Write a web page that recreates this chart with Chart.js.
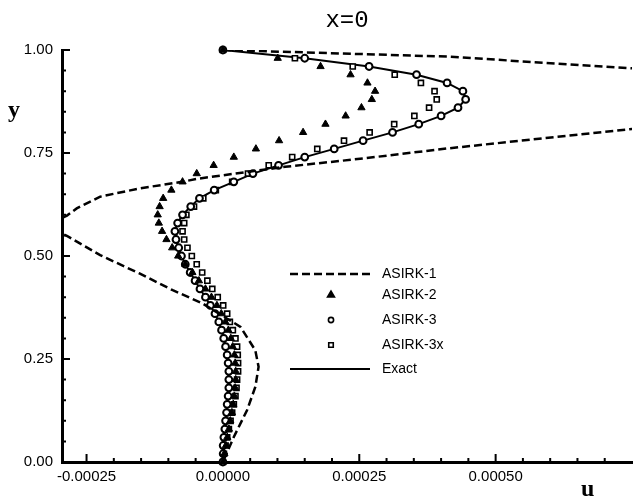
<!DOCTYPE html>
<html>
<head>
<meta charset="utf-8">
<title>x=0</title>
<script src="https://cdn.jsdelivr.net/npm/chart.js@4.4.1/dist/chart.umd.min.js"></script>
<style>
  html, body { margin: 0; padding: 0; background: #fff; }
  #wrap { position: relative; width: 638px; height: 498px; }
</style>
</head>
<body>
<div id="wrap"><canvas id="profile-chart" width="638" height="498"></canvas></div>
<script>
// u-velocity profiles at x=0 (u in units of 1e-5)

const yLevels = [1.00, 0.98, 0.96, 0.94, 0.92, 0.90, 0.88, 0.86, 0.84, 0.82,
                 0.80, 0.78, 0.76, 0.74, 0.72, 0.70, 0.68, 0.66, 0.64, 0.62,
                 0.60, 0.58, 0.56, 0.54, 0.52, 0.50, 0.48, 0.46, 0.44, 0.42,
                 0.40, 0.38, 0.36, 0.34, 0.32, 0.30, 0.28, 0.26, 0.24, 0.22,
                 0.20, 0.18, 0.16, 0.14, 0.12, 0.10, 0.08, 0.06, 0.04, 0.02, 0.00];

const asirk2U = [0, 10.05, 17.9, 23.4, 26.5, 27.9, 27.3, 25.4, 22.5, 18.8,
                 14.7, 10.3, 6.05, 2.0, -1.7, -4.8, -7.4, -9.45, -10.95, -11.6,
                 -11.95, -11.75, -11.15, -10.35, -9.3, -8.2, -6.9, -5.6, -4.4, -3.2,
                 -2.1, -1.1, -0.3, 0.45, 1.0, 1.45, 1.8, 2.1, 2.25, 2.35,
                 2.35, 2.25, 2.1, 1.9, 1.65, 1.35, 1.1, 0.8, 0.55, 0.27, 0];

const asirk3U = [0, 15.0, 26.8, 35.5, 41.1, 44.0, 44.5, 43.1, 40.0, 35.9,
                 31.1, 25.7, 20.4, 15.0, 10.2, 5.5, 2.0, -1.6, -4.3, -5.9,
                 -7.4, -8.3, -8.8, -8.6, -8.1, -7.6, -6.9, -6.0, -5.1, -4.2,
                 -3.2, -2.3, -1.45, -0.75, -0.25, 0.15, 0.49, 0.78, 0.96, 1.09,
                 1.09, 1.09, 0.96, 0.78, 0.67, 0.49, 0.36, 0.18, 0.05, 0.05, 0];

const asirk3xU = [0, 13.2, 23.8, 31.5, 36.3, 38.8, 39.2, 37.8, 35.1, 31.4,
                  26.9, 22.2, 17.3, 12.7, 8.4, 4.6, 1.7, -1.3, -3.6, -5.3,
                  -6.7, -7.1, -7.4, -7.1, -6.5, -5.7, -4.8, -3.8, -2.85, -1.95,
                  -0.95, 0.05, 0.78, 1.27, 1.82, 2.3, 2.6, 2.72, 2.78, 2.78,
                  2.6, 2.49, 2.3, 2.0, 1.69, 1.4, 1.09, 0.78, 0.49, 0.18, 0];

const exactU = [0, 15.0, 26.8, 35.5, 41.1, 44.0, 44.5, 43.1, 40.0, 35.9,
                31.1, 25.7, 20.4, 15.0, 10.2, 5.5, 2.0, -1.6, -4.3, -5.9,
                -7.4, -8.3, -8.8, -8.6, -8.1, -7.6, -6.9, -6.0, -5.1, -4.2,
                -3.2, -2.3, -1.45, -0.75, -0.25, 0.15, 0.49, 0.78, 0.96, 1.09,
                1.09, 1.09, 0.96, 0.78, 0.67, 0.49, 0.36, 0.18, 0.05, 0.05, 0];

// ASIRK-1 overshoots both sides of the frame, the outside points get clipped
const asirk1U = [0, 41.1, 75.0, 92.0, 110.0, 92.0, 74.1, 41.1, 25.9, 11.4,
                 -4.4, -7.5, -15.3, -22.5, -26.8, -28.6, -32.5, -28.6, -22.5, -15.3,
                 -9.2, -3.76, 3.22, 5.94, 6.54, 5.94, 4.42, 2.0, 0];
const asirk1Y = [1.0, 0.984, 0.9555, 0.9415, 0.89, 0.833, 0.807, 0.761, 0.737, 0.7165,
                 0.688, 0.680, 0.664, 0.644, 0.6155, 0.598, 0.573, 0.549, 0.502, 0.4576,
                 0.417, 0.385, 0.328, 0.271, 0.231, 0.182, 0.1256, 0.0607, 0];

const xTickValues = [-0.00025, 0, 0.00025, 0.0005];
const xTickLabels = ['-0.00025', '0.00000', '0.00025', '0.00050'];
const xMinorTicks = [-0.0002, -0.00015, -0.0001, -0.00005, 0.00005, 0.0001, 0.00015, 0.0002,
                     0.0003, 0.00035, 0.0004, 0.00045, 0.00055, 0.0006, 0.00065, 0.0007];
const yTickValues = [0, 0.25, 0.5, 0.75, 1.0];
const yTickLabels = ['0.00', '0.25', '0.50', '0.75', '1.00'];
const yMinorTicks = [0.05, 0.1, 0.15, 0.2, 0.3, 0.35, 0.4, 0.45, 0.55, 0.6, 0.65, 0.7, 0.8, 0.85, 0.9, 0.95];

const seriesNames = ['ASIRK-1', 'ASIRK-2', 'ASIRK-3', 'ASIRK-3x', 'Exact'];

function profilePoints(uList, yList) {
  return uList.map((u, i) => ({ x: u * 1e-5, y: yList[i] }));
}

const SANS = '"Liberation Sans", Arial, Helvetica, sans-serif';

// Inward tick marks, legend and the loose text labels
const decorPlugin = {
  id: 'decor',
  afterDraw(chart) {
    const ctx = chart.ctx;
    const xs = chart.scales.x;
    const ys = chart.scales.y;
    const area = chart.chartArea;
    ctx.save();
    ctx.strokeStyle = '#000';
    ctx.lineWidth = 2;
    ctx.beginPath();
    xTickValues.forEach(v => { const p = xs.getPixelForValue(v); ctx.moveTo(p, area.bottom); ctx.lineTo(p, area.bottom - 8); });
    xMinorTicks.forEach(v => { const p = xs.getPixelForValue(v); ctx.moveTo(p, area.bottom); ctx.lineTo(p, area.bottom - 4); });
    yTickValues.forEach(v => { const p = ys.getPixelForValue(v); ctx.moveTo(area.left, p); ctx.lineTo(area.left + 8, p); });
    yMinorTicks.forEach(v => { const p = ys.getPixelForValue(v); ctx.moveTo(area.left, p); ctx.lineTo(area.left + 4, p); });
    ctx.stroke();

    // legend
    const rowsY = [274, 295, 320, 345, 369];
    ctx.fillStyle = '#000';
    ctx.lineWidth = 2.5;
    ctx.setLineDash([8, 4]);
    ctx.beginPath(); ctx.moveTo(290, rowsY[0]); ctx.lineTo(370, rowsY[0]); ctx.stroke();
    ctx.setLineDash([]);
    ctx.lineWidth = 2;
    ctx.beginPath(); ctx.moveTo(290, rowsY[4]); ctx.lineTo(370, rowsY[4]); ctx.stroke();
    Chart.helpers.drawPoint(ctx, { pointStyle: 'triangle', radius: 3.6, rotation: 0, borderWidth: 1 }, 331, rowsY[1]);
    ctx.fillStyle = '#fff';
    ctx.lineWidth = 1.6;
    Chart.helpers.drawPoint(ctx, { pointStyle: 'circle', radius: 2.6, rotation: 0, borderWidth: 1.6 }, 331, rowsY[2]);
    Chart.helpers.drawPoint(ctx, { pointStyle: 'rect', radius: 3.2, rotation: 0, borderWidth: 1.6 }, 331, rowsY[3]);

    ctx.fillStyle = '#000';
    ctx.font = '14px ' + SANS;
    ctx.textAlign = 'left';
    ctx.textBaseline = 'middle';
    seriesNames.forEach((name, i) => ctx.fillText(name, 382, rowsY[i]));

    // title and axis names
    ctx.textBaseline = 'alphabetic';
    ctx.textAlign = 'center';
    ctx.font = '24px "Liberation Mono", "Courier New", monospace';
    ctx.fillText('x=0', (area.left + area.right) / 2, 27);
    ctx.textAlign = 'left';
    ctx.font = 'bold 24px "Liberation Serif", "Times New Roman", serif';
    ctx.fillText('y', 8, 117);
    ctx.fillText('u', 581, 496);
    ctx.restore();
  }
};

const ctx = document.getElementById('profile-chart');
new Chart(ctx, {
  type: 'scatter',
  data: {
    datasets: [
      {
        label: seriesNames[0],
        data: profilePoints(asirk1U, asirk1Y),
        showLine: true,
        borderColor: '#000',
        borderWidth: 2.5,
        borderDash: [8, 4],
        pointRadius: 0,
        tension: 0
      },
      {
        label: seriesNames[1],
        data: profilePoints(asirk2U, yLevels),
        pointStyle: 'triangle',
        pointRadius: 4.2,
        backgroundColor: '#000',
        borderColor: '#000',
        borderWidth: 1,
        clip: 10
      },
      {
        label: seriesNames[2],
        data: profilePoints(asirk3U, yLevels),
        pointStyle: 'circle',
        pointRadius: 3.4,
        backgroundColor: '#fff',
        borderColor: '#000',
        borderWidth: 2,
        clip: 10
      },
      {
        label: seriesNames[3],
        data: profilePoints(asirk3xU, yLevels),
        pointStyle: 'rect',
        pointRadius: 3.6,
        backgroundColor: '#fff',
        borderColor: '#000',
        borderWidth: 1.6,
        clip: 10
      },
      {
        label: seriesNames[4],
        data: profilePoints(exactU, yLevels),
        showLine: true,
        borderColor: '#000',
        borderWidth: 2,
        pointRadius: 0,
        tension: 0
      }
    ]
  },
  options: {
    responsive: false,
    animation: false,
    devicePixelRatio: 1,
    layout: { padding: { top: 50, right: 1, left: 0, bottom: 0 } },
    plugins: {
      legend: { display: false },
      tooltip: { enabled: false },
      title: { display: false }
    },
    scales: {
      x: {
        type: 'linear',
        position: 'bottom',
        min: -0.000295,
        max: 0.00075,
        grid: { display: false, drawTicks: false },
        border: { display: true, color: '#000', width: 3 },
        afterBuildTicks: scale => { scale.ticks = xTickValues.map(v => ({ value: v })); },
        afterFit: scale => { scale.height = 36; },
        ticks: {
          color: '#000',
          padding: 6,
          maxRotation: 0,
          font: { family: SANS, size: 15 },
          callback: (value, index) => xTickLabels[index]
        }
      },
      y: {
        type: 'linear',
        position: 'left',
        min: 0,
        max: 1,
        grid: { display: false, drawTicks: false },
        border: { display: true, color: '#000', width: 3 },
        afterBuildTicks: scale => { scale.ticks = yTickValues.map(v => ({ value: v })); },
        afterFit: scale => { scale.width = 62; },
        ticks: {
          color: '#000',
          padding: 9,
          font: { family: SANS, size: 15 },
          callback: (value, index) => yTickLabels[index]
        }
      }
    }
  },
  plugins: [decorPlugin]
});
</script>
</body>
</html>
